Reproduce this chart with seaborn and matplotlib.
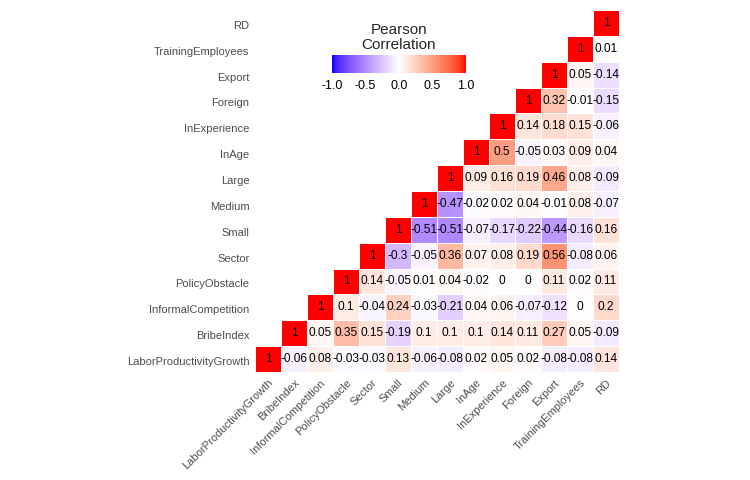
import numpy as np
import pandas as pd
import matplotlib
matplotlib.use("Agg")
import matplotlib.pyplot as plt
import matplotlib.transforms as mtrans
import seaborn as sns
from matplotlib.colors import LinearSegmentedColormap

variables = ["LaborProductivityGrowth", "BribeIndex", "InformalCompetition", "PolicyObstacle",
             "Sector", "Small", "Medium", "Large", "InAge", "InExperience", "Foreign",
             "Export", "TrainingEmployees", "RD"]

# correlations of each variable with the variables that follow it
r_lpg = [-0.06, 0.08, -0.03, -0.03, 0.13, -0.06, -0.08, 0.02, 0.05, 0.02, -0.08, -0.08, 0.14]
r_bribe = [0.05, 0.35, 0.15, -0.19, 0.1, 0.1, 0.1, 0.14, 0.11, 0.27, 0.05, -0.09]
r_informal = [0.1, -0.04, 0.24, -0.03, -0.21, 0.04, 0.06, -0.07, -0.12, 0, 0.2]
r_policy = [0.14, -0.05, 0.01, 0.04, -0.02, 0, 0, 0.11, 0.02, 0.11]
r_sector = [-0.3, -0.05, 0.36, 0.07, 0.08, 0.19, 0.56, -0.08, 0.06]
r_small = [-0.51, -0.51, -0.07, -0.17, -0.22, -0.44, -0.16, 0.16]
r_medium = [-0.47, -0.02, 0.02, 0.04, -0.01, 0.08, -0.07]
r_large = [0.09, 0.16, 0.19, 0.46, 0.08, -0.09]
r_inage = [0.5, -0.05, 0.03, 0.09, 0.04]
r_inexp = [0.14, 0.18, 0.15, -0.06]
r_foreign = [0.32, -0.01, -0.15]
r_export = [0.05, -0.14]
r_training = [0.01]

rows = [r_lpg, r_bribe, r_informal, r_policy, r_sector, r_small, r_medium, r_large,
        r_inage, r_inexp, r_foreign, r_export, r_training, []]

n = len(variables)
M = np.eye(n)
for i, r in enumerate(rows):
    for k, v in enumerate(r):
        j = i + 1 + k
        M[i, j] = v
        M[j, i] = v

# ---- Lab-space blue-white-red colormap (like ggplot gradient2) ----
def srgb_to_lab(rgb):
    rgb = np.asarray(rgb, float)
    lin = np.where(rgb <= 0.04045, rgb / 12.92, ((rgb + 0.055) / 1.055) ** 2.4)
    Mx = np.array([[0.4124, 0.3576, 0.1805], [0.2126, 0.7152, 0.0722], [0.0193, 0.1192, 0.9505]])
    xyz = lin @ Mx.T
    wp = np.array([0.95047, 1.0, 1.08883])
    t = xyz / wp
    f = np.where(t > (6 / 29) ** 3, np.cbrt(t), t / (3 * (6 / 29) ** 2) + 4 / 29)
    L = 116 * f[..., 1] - 16
    a = 500 * (f[..., 0] - f[..., 1])
    b = 200 * (f[..., 1] - f[..., 2])
    return np.stack([L, a, b], -1)

def lab_to_srgb(lab):
    L, a, b = lab[..., 0], lab[..., 1], lab[..., 2]
    fy = (L + 16) / 116
    fx = fy + a / 500
    fz = fy - b / 200
    def finv(f):
        return np.where(f > 6 / 29, f ** 3, 3 * (6 / 29) ** 2 * (f - 4 / 29))
    wp = np.array([0.95047, 1.0, 1.08883])
    xyz = np.stack([finv(fx), finv(fy), finv(fz)], -1) * wp
    Minv = np.array([[3.2406, -1.5372, -0.4986], [-0.9689, 1.8758, 0.0415], [0.0557, -0.2040, 1.0570]])
    lin = xyz @ Minv.T
    lin = np.clip(lin, 0, 1)
    rgb = np.where(lin <= 0.0031308, 12.92 * lin, 1.055 * lin ** (1 / 2.4) - 0.055)
    return np.clip(rgb, 0, 1)

lab_b = srgb_to_lab([0, 0, 1]); lab_w = srgb_to_lab([1, 1, 1]); lab_r = srgb_to_lab([1, 0, 0])
cols = []
for t in np.linspace(0, 1, 256):
    if t < 0.5:
        s = t / 0.5
        lab = lab_b + (lab_w - lab_b) * s
    else:
        s = (t - 0.5) / 0.5
        lab = lab_w + (lab_r - lab_w) * s
    cols.append(lab_to_srgb(lab))
cmap = LinearSegmentedColormap.from_list("bwr_lab", cols)

# ---- data frame for display: top row RD, bottom row LPG ----
order_rows = variables[::-1]
df = pd.DataFrame(M, index=variables, columns=variables).loc[order_rows, variables]
mask = np.zeros_like(df.values, dtype=bool)
for ri, rv in enumerate(order_rows):
    for ci, cv in enumerate(variables):
        if variables.index(cv) < variables.index(rv):
            mask[ri, ci] = True
annot = np.vectorize(lambda v: "{:g}".format(round(v, 2)))(df.values)

sns.set_theme(style="white")
plt.rcParams["font.family"] = ["Liberation Sans", "DejaVu Sans"]

fig = plt.figure(figsize=(7.5, 4.8), dpi=100)
ax = fig.add_axes([255 / 750, 1 - 372 / 480, 364 / 750, 362 / 480])
cax = fig.add_axes([332 / 750, 1 - 73 / 480, 134 / 750, 18 / 480])

sns.heatmap(df, mask=mask, cmap=cmap, vmin=-1, vmax=1, annot=annot, fmt="",
            annot_kws={"size": 8.6, "color": "black"}, linewidths=0.6, linecolor="white",
            square=False, ax=ax, cbar_ax=cax, cbar_kws={"orientation": "horizontal",
                                                        "ticks": [-1, -0.5, 0, 0.5, 1]})

ax.set_xlabel("")
ax.set_ylabel("")
ax.set_xticklabels(variables, rotation=45, ha="right", va="top", rotation_mode="anchor",
                   fontsize=8, color="#4d4d4d")
ax.set_yticklabels(order_rows, rotation=0, fontsize=8, color="#4d4d4d")
ax.tick_params(axis="both", length=0, pad=4)
shift = mtrans.ScaledTranslation(0, -3 / 100, fig.dpi_scale_trans)
for lab in ax.get_yticklabels():
    lab.set_transform(lab.get_transform() + shift)
for s in ax.spines.values():
    s.set_visible(False)

cax.set_xticklabels(["-1.0", "-0.5", "0.0", "0.5", "1.0"], fontsize=9, color="black")
cax.tick_params(axis="x", direction="in", length=3, color="white", width=0.6, pad=5)
cax.set_title("Pearson\nCorrelation", fontsize=11, pad=4, linespacing=1.1)
for s in cax.spines.values():
    s.set_visible(False)

fig.savefig("out.png", dpi=100)
